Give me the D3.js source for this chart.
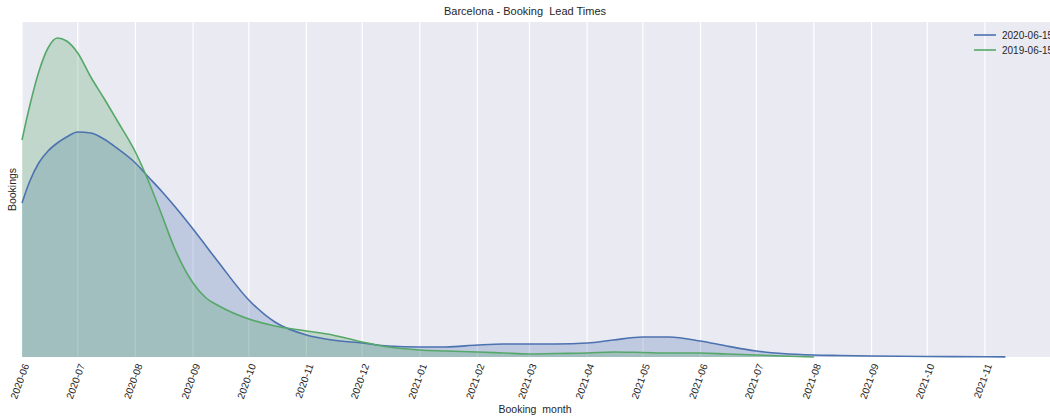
<!DOCTYPE html>
<html>
<head>
<meta charset="utf-8">
<script src="https://cdn.jsdelivr.net/npm/d3@7"></script>
<style>
  html, body { margin: 0; padding: 0; background: #fff; overflow: hidden; }
  #chart { width: 1050px; height: 417px; }
  text { font-family: "Liberation Sans", Arial, sans-serif; fill: #262626; }
</style>
</head>
<body>
<div id="chart"></div>
<script>
'use strict';

const TITLE = 'Barcelona - Booking  Lead Times';
const X_LABEL = 'Booking  month';
const Y_LABEL = 'Bookings';
const SERIES_NAMES = ['2020-06-15', '2019-06-15'];
const COLORS = ['#4C72B0', '#55A868'];
const X_DOMAIN = ['2020-06-01', '2021-12-06'];
const Y_MAX = 670;

const dates = [
  '2020-06-01', '2020-06-05', '2020-06-10', '2020-06-15', '2020-06-20', '2020-06-25',
  '2020-07-01', '2020-07-08', '2020-07-15', '2020-07-22',
  '2020-08-01', '2020-08-08', '2020-08-15', '2020-08-22',
  '2020-09-01', '2020-09-08', '2020-09-15',
  '2020-10-01', '2020-10-15', '2020-11-01', '2020-11-15', '2020-12-01', '2020-12-15',
  '2021-01-01', '2021-01-15', '2021-02-01', '2021-02-15', '2021-03-01', '2021-03-15',
  '2021-04-01', '2021-04-15', '2021-05-01', '2021-05-15', '2021-06-01', '2021-06-15',
  '2021-07-01', '2021-07-15', '2021-08-01', '2021-08-15', '2021-09-01', '2021-10-01',
  '2021-11-01', '2021-11-12'
];

// bookings, 2020 search date
const bookings2020 = [
  308, 350, 388, 412, 428, 440,
  450, 448, 436, 418,
  388, 360, 332, 302,
  256, 222, 188,
  114, 70, 44, 34, 28, 22,
  20, 20, 24, 26, 26, 26,
  28, 34, 40, 40, 32, 22,
  12, 7, 4, 3, 2, 1,
  0.5, 0.3
];

// bookings, 2019 search date (ends 2021-08-01)
const bookings2019 = [
  434, 500, 570, 618, 638, 632,
  608, 560, 518, 474,
  410, 352, 286, 218,
  148, 118, 102,
  76, 62, 52, 44, 30, 20,
  14, 12, 10, 8, 6, 7,
  8, 10, 9, 8, 8, 6,
  4, 2, 0
];

const parse = d3.timeParse('%Y-%m-%d');
const series = [bookings2020, bookings2019].map((vals, i) => ({
  name: SERIES_NAMES[i],
  color: COLORS[i],
  values: vals.map((v, j) => ({ date: parse(dates[j]), value: v }))
}));

const W = 1050, H = 417;
const MARGIN = { top: 22, right: 0, bottom: 60, left: 22 };
const w = W - MARGIN.left - MARGIN.right;
const h = H - MARGIN.top - MARGIN.bottom;

const svg = d3.select('#chart').append('svg')
  .attr('width', W).attr('height', H);

const x = d3.scaleTime()
  .domain(X_DOMAIN.map(parse))
  .range([0, w]);

const y = d3.scaleLinear()
  .domain([0, Y_MAX])
  .range([h, 0]);

const g = svg.append('g')
  .attr('transform', `translate(${MARGIN.left},${MARGIN.top})`);

// Background
g.append('rect')
  .attr('width', w).attr('height', h)
  .attr('fill', '#EAEAF2');

// Vertical grid
const months = d3.timeMonth.range(parse('2020-06-01'), parse('2021-11-02'));
g.append('g')
  .selectAll('line')
  .data(months)
  .join('line')
  .attr('x1', d => x(d)).attr('x2', d => x(d))
  .attr('y1', 0).attr('y2', h)
  .attr('stroke', '#fff')
  .attr('stroke-width', 1.2);

const area = d3.area()
  .x(d => x(d.date))
  .y0(h)
  .y1(d => y(d.value))
  .curve(d3.curveMonotoneX);

const line = d3.line()
  .x(d => x(d.date))
  .y(d => y(d.value))
  .curve(d3.curveMonotoneX);

series.forEach(s => {
  g.append('path')
    .datum(s.values)
    .attr('fill', s.color)
    .attr('fill-opacity', 0.27)
    .attr('d', area);
});

series.forEach(s => {
  g.append('path')
    .datum(s.values)
    .attr('fill', 'none')
    .attr('stroke', s.color)
    .attr('stroke-width', 1.6)
    .attr('d', line);
});

// X tick labels
const fmt = d3.timeFormat('%Y-%m');
g.append('g')
  .selectAll('text')
  .data(months)
  .join('text')
  .attr('transform', d => `translate(${x(d) + 4},${h + 7}) rotate(-70)`)
  .attr('text-anchor', 'end')
  .attr('dy', '0.35em')
  .attr('font-size', '10px')
  .text(d => fmt(d));

// Title and axis labels
svg.append('text')
  .attr('x', MARGIN.left + 503).attr('y', 15)
  .attr('text-anchor', 'middle')
  .attr('font-size', '11px')
  .style('white-space', 'pre')
  .text(TITLE);

svg.append('text')
  .attr('x', 535).attr('y', 413)
  .attr('text-anchor', 'middle')
  .attr('font-size', '10.5px')
  .style('white-space', 'pre')
  .text(X_LABEL);

svg.append('text')
  .attr('transform', `translate(16,${MARGIN.top + h / 2}) rotate(-90)`)
  .attr('text-anchor', 'middle')
  .attr('font-size', '10.5px')
  .text(Y_LABEL);

// Legend
const legend = svg.append('g')
  .attr('transform', 'translate(974,35)');
series.forEach((s, i) => {
  const row = legend.append('g').attr('transform', `translate(0,${i * 15})`);
  row.append('line')
    .attr('x1', 0).attr('x2', 22)
    .attr('stroke', s.color).attr('stroke-width', 1.6);
  row.append('text')
    .attr('x', 28).attr('dy', '0.35em')
    .attr('font-size', '10px')
    .text(s.name);
});
</script>
</body>
</html>
